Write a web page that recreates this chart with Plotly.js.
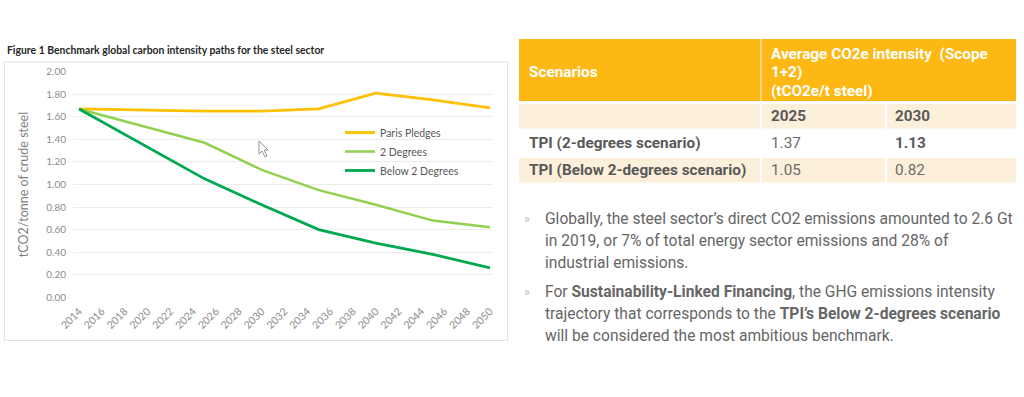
<!DOCTYPE html>
<html>
<head>
<meta charset="utf-8">
<script src="https://cdn.plot.ly/plotly-3.0.1.min.js"></script>
<style>html,body{margin:0;padding:0;background:#fff;}#chart{width:1024px;height:397px;}</style>
</head>
<body>
<div id="chart"></div>
<script>
// ---- data ----
const years = [2014, 2020, 2025, 2030, 2035, 2040, 2045, 2050];
const parisPledges = [1.67, 1.66, 1.65, 1.65, 1.67, 1.81, 1.75, 1.68];
const twoDegrees = [1.67, 1.51, 1.37, 1.13, 0.95, 0.82, 0.68, 0.62];
const below2Degrees = [1.67, 1.33, 1.05, 0.82, 0.60, 0.48, 0.38, 0.26];
const seriesNames = ["Paris Pledges", "2 Degrees", "Below 2 Degrees"];
const xTickYears = [2014,2016,2018,2020,2022,2024,2026,2028,2030,2032,2034,2036,2038,2040,2042,2044,2046,2048,2050];
const xTickLabels = xTickYears.map(String);
const chartTitle = "Figure 1 Benchmark global carbon intensity paths for the steel sector";
const yTitle = "tCO2/tonne of crude steel";

const tableHeaderLeft = "Scenarios";
const tableHeaderRight = ["Average CO2e intensity  (Scope", "1+2)", "(tCO2e/t steel)"];
const tableYears = ["2025", "2030"];
const tableScenarios = ["TPI (2-degrees scenario)", "TPI (Below 2-degrees scenario)"];
const tableValues2025 = ["1.37", "1.05"];
const tableValues2030 = ["1.13", "0.82"];
const bullet1Lines = ["Globally, the steel sector\u2019s direct CO2 emissions amounted to 2.6 Gt",
                      "in 2019, or 7% of total energy sector emissions and 28% of",
                      "industrial emissions."];
const bullet2Lines = ["For <b>Sustainability-Linked Financing</b>, the GHG emissions intensity",
                      "trajectory that corresponds to the <b>TPI\u2019s Below 2-degrees scenario</b>",
                      "will be considered the most ambitious benchmark."];

// ---- helpers (pixel -> paper) ----
const W = 1024, H = 397;
const fx = x => x / W;
const fy = y => 1 - y / H;

const colors = ["#FFC000", "#92D050", "#00A84F"];
const seriesData = [parisPledges, twoDegrees, below2Degrees];

const traces = seriesData.map((vals, i) => ({
  type: "scatter", mode: "lines", x: years, y: vals, name: seriesNames[i],
  line: {color: colors[i], width: i === 1 ? 2.5 : 2.8, shape: "linear"},
  hoverinfo: "skip"
}));

const shapes = [];
const annotations = [];

// chart frame
shapes.push({type: "rect", xref: "paper", yref: "paper", x0: fx(4.5), x1: fx(507.5), y0: fy(62), y1: fy(340.5),
  line: {color: "#e2e2e2", width: 1}, fillcolor: "rgba(0,0,0,0)", layer: "below"});

// title
annotations.push({xref: "paper", yref: "paper", x: fx(5), y: fy(50), xanchor: "left", yanchor: "middle",
  text: "<b>" + chartTitle + "</b>", showarrow: false, font: {family: "Lato", size: 10.4, color: "#262626"}});

// cursor artifact
shapes.push({type: "path", xref: "paper", yref: "paper",
  path: "M " + fx(259) + "," + fy(141) + " L " + fx(259) + "," + fy(154) + " L " + fx(262) + "," + fy(151) +
        " L " + fx(265) + "," + fy(157) + " L " + fx(267) + "," + fy(156) + " L " + fx(264) + "," + fy(150) +
        " L " + fx(268) + "," + fy(150) + " Z",
  line: {color: "#7a7a7a", width: 0.8}, fillcolor: "#ffffff"});

// ---- table ----
const tL = 519, tR = 1016, colA = 761, colB = 886;
const orange = "#FDB813", cream = "#FDF0DA";
shapes.push({type: "rect", xref: "paper", yref: "paper", x0: fx(tL), x1: fx(tR), y0: fy(39), y1: fy(101), fillcolor: orange, line: {width: 0}});
shapes.push({type: "line", xref: "paper", yref: "paper", x0: fx(colA), x1: fx(colA), y0: fy(39), y1: fy(101), line: {color: "#FEE4A6", width: 1.5}});
[[104, 128.5], [158, 182.5]].forEach(r => {
  shapes.push({type: "rect", xref: "paper", yref: "paper", x0: fx(tL), x1: fx(tR), y0: fy(r[0]), y1: fy(r[1]), fillcolor: cream, line: {width: 0}});
  [colA, colB].forEach(c => shapes.push({type: "line", xref: "paper", yref: "paper", x0: fx(c), x1: fx(c), y0: fy(r[0]), y1: fy(r[1]), line: {color: "#ffffff", width: 2}}));
});

const tf = (size, color) => ({family: "Roboto", size: size, color: color});
function addText(x, y, text, font) {
  annotations.push({xref: "paper", yref: "paper", x: fx(x), y: fy(y), xanchor: "left", yanchor: "middle",
    text: text, showarrow: false, font: font});
}
const TS = 15.3;
addText(527, 72, "<b>" + tableHeaderLeft + "</b>", tf(TS, "#ffffff"));
tableHeaderRight.forEach((t, i) => addText(769, 53.5 + i * 18.8, "<b>" + t + "</b>", tf(TS, "#ffffff")));
addText(769, 116.5, "<b>" + tableYears[0] + "</b>", tf(TS, "#595959"));
addText(893, 116.5, "<b>" + tableYears[1] + "</b>", tf(TS, "#595959"));
const rowY = [143, 170];
tableScenarios.forEach((s, i) => {
  addText(527, rowY[i], "<b>" + s + "</b>", tf(TS, "#595959"));
  addText(769, rowY[i], tableValues2025[i], tf(TS, "#6b6b6b"));
  addText(893, rowY[i], i === 0 ? "<b>" + tableValues2030[i] + "</b>" : tableValues2030[i], tf(TS, i === 0 ? "#595959" : "#6b6b6b"));
});

// ---- bullets ----
const bulletFont = tf(15.6, "#666666");
addText(522, 218.5, "\u00bb", tf(12, "#9cc4c2"));
bullet1Lines.forEach((t, i) => addText(543, 218.5 + i * 22.3, t, bulletFont));
addText(522, 291.5, "\u00bb", tf(12, "#9cc4c2"));
bullet2Lines.forEach((t, i) => addText(543, 291.5 + i * 22.3, t, bulletFont));

const layout = {
  width: W, height: H,
  margin: {l: 0, r: 0, t: 0, b: 0},
  paper_bgcolor: "#ffffff", plot_bgcolor: "rgba(0,0,0,0)",
  showlegend: true,
  legend: {x: fx(340), y: fy(118), xanchor: "left", yanchor: "top", bgcolor: "rgba(0,0,0,0)",
    font: {family: "Lato", size: 10.5, color: "#595959"}, tracegroupgap: 0, itemwidth: 30},
  xaxis: {domain: [fx(73), fx(492)], range: [2013.47, 2050.18], tickmode: "array", tickvals: xTickYears, ticktext: xTickLabels,
    tickangle: -45, showgrid: false, zeroline: false, showline: false, ticks: "", automargin: false,
    ticklabelstandoff: 5,
    tickfont: {family: "Lato", size: 10.5, color: "#8c8c8c"}, fixedrange: true},
  yaxis: {domain: [fy(297.3), fy(71.7)], range: [0, 2], dtick: 0.2, tick0: 0, tickformat: ".2f",
    showgrid: true, gridcolor: "#ececec", gridwidth: 1, zeroline: false, showline: false, ticks: "", automargin: false,
    ticklabelstandoff: 6,
    tickfont: {family: "Lato", size: 10, color: "#8c8c8c"},
    title: {text: yTitle, font: {family: "Lato", size: 12.5, color: "#7f7f7f"}, standoff: 14}, fixedrange: true},
  shapes: shapes,
  annotations: annotations
};

Plotly.newPlot("chart", traces, layout, {displayModeBar: false, staticPlot: true});
</script>
</body>
</html>
